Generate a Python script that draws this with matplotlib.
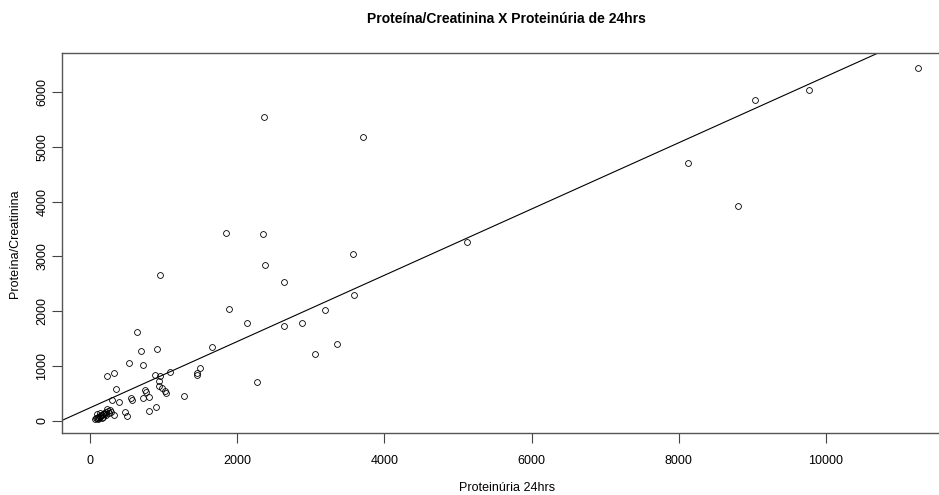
import numpy as np
import matplotlib.pyplot as plt

plt.rcParams['font.family'] = ['Liberation Sans', 'DejaVu Sans']

# Proteinuria de 24hrs (x) e Proteina/Creatinina (y)
prot24 = [11254, 9769, 9031, 8120, 8809,
          5127, 3714, 2368, 1852, 2355, 2378, 2632, 3569, 3591, 3188,
          1889, 2129, 2632, 2885, 1662, 3356, 3057, 1495, 1449, 1449, 2273,
          951, 643, 697, 915, 534, 720, 227, 326, 883, 947, 1091,
          942, 933, 974, 1024, 1033, 1282, 752, 757, 349, 716, 806,
          557, 575, 303, 398, 467, 498, 322, 797, 893,
          60, 75, 90, 100, 110, 120, 130, 140, 150, 160, 170, 180,
          190, 200, 210, 220, 240, 250, 270, 130, 95, 160, 230, 280]
prot_creat = [6442, 6036, 5849, 4696, 3915,
              3267, 5182, 5545, 3418, 3406, 2836, 2527, 3042, 2297, 2030,
              2042, 1788, 1739, 1788, 1351, 1400, 1212, 964, 873, 843, 715,
              2660, 1624, 1279, 1303, 1055, 1012, 824, 879, 843, 824, 897,
              733, 631, 605, 551, 515, 458, 570, 521, 588, 424, 436,
              418, 388, 382, 340, 160, 90, 100, 180, 262,
              30, 45, 55, 40, 70, 60, 90, 80, 110, 100, 130, 70,
              150, 120, 160, 110, 180, 140, 200, 150, 120, 50, 220, 170]

# reta de regressao (abline)
intercept = 240
slope = 0.604

fig = plt.figure(figsize=(9.39, 4.95), dpi=100)
ax = fig.add_axes([0.0663, 0.1253, 0.9465, 0.7667])

ax.plot(prot24, prot_creat, 'o', mfc='none', mec='black', ms=4.2, mew=0.6)
ax.axline((0, intercept), slope=slope, color='black', lw=0.8)

ax.set_xlim(-379, 11700)
ax.set_ylim(-220, 6700)
ax.set_xticks(np.arange(0, 10001, 2000))
ax.set_yticks(np.arange(0, 6001, 1000))
ax.tick_params(axis='x', length=7, pad=9, labelsize=9, color='#444444')
ax.tick_params(axis='y', length=7, pad=3, labelsize=9, color='#444444')
for lab in ax.get_yticklabels():
    lab.set_rotation(90)
    lab.set_va('center')
for sp in ax.spines.values():
    sp.set_color('#555555')
    sp.set_linewidth(1.0)

ax.set_title('Proteína/Creatinina X Proteinúria de 24hrs',
             fontsize=10, fontweight='bold', pad=22)
ax.set_xlabel('Proteinúria 24hrs', fontsize=9, labelpad=11)
ax.set_ylabel('Proteína/Creatinina', fontsize=9, labelpad=11)

fig.savefig('out.png', dpi=100)
